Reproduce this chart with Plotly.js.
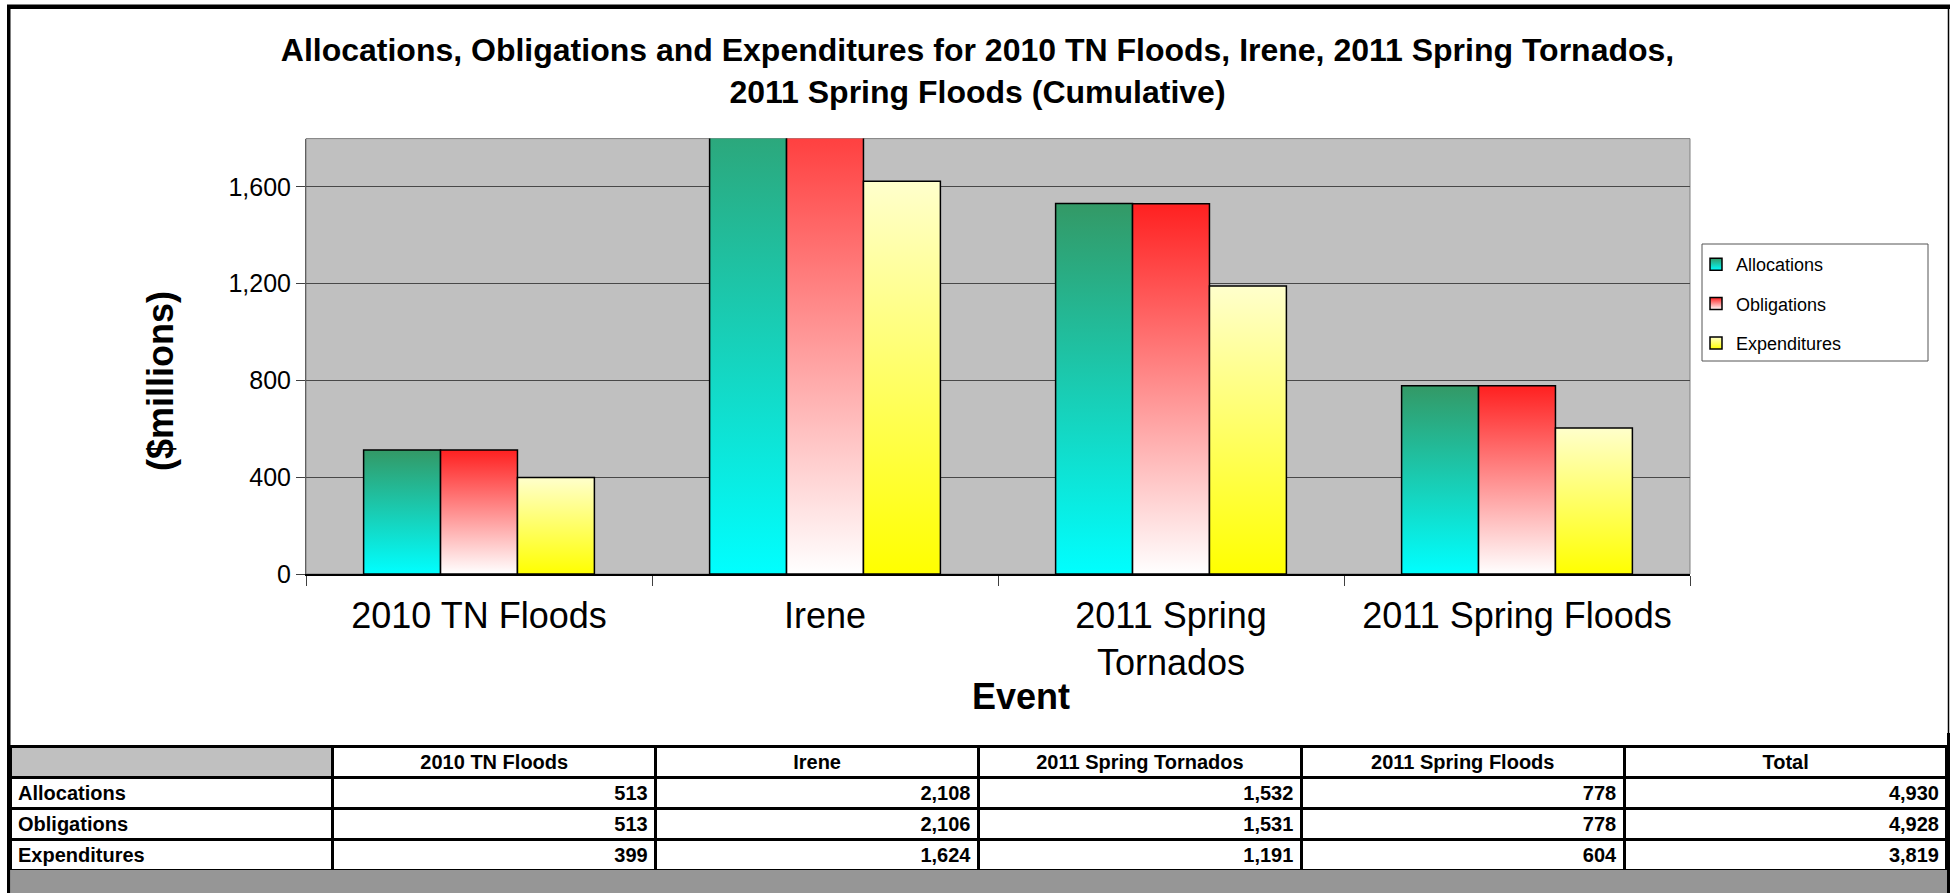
<!DOCTYPE html>
<html>
<head>
<meta charset="utf-8">
<script src="https://cdn.plot.ly/plotly-3.0.1.min.js"></script>
<style>
  html, body { margin: 0; padding: 0; background: #ffffff; }
  #chart { width: 1955px; height: 893px; }
</style>
</head>
<body>
<div id="chart"></div>
<script>
// ---- data ----
const categories = ['2010 TN Floods', 'Irene', '2011 Spring Tornados', '2011 Spring Floods'];
const axisLabels = ['2010 TN Floods', 'Irene', '2011 Spring<br>Tornados', '2011 Spring Floods'];
const seriesNames = ['Allocations', 'Obligations', 'Expenditures'];
const allocations = [513, 2108, 1532, 778];
const obligations = [513, 2106, 1531, 778];
const expenditures = [399, 1624, 1191, 604];
const totals = [4930, 4928, 3819];
const yTicks = [0, 400, 800, 1200, 1600];

// ---- styling ----
const FONT = 'Liberation Sans, Arial, Helvetica, sans-serif';
const W = 1955, H = 893;
const px = v => v / W;
const py = v => 1 - v / H;
const gradients = [
  ['#339966', '#00FFFF'],   // Allocations: green top -> cyan bottom
  ['#FF2020', '#FFFFFF'],   // Obligations: red top -> white bottom
  ['#FFFFCC', '#FFFF00']    // Expenditures: pale yellow top -> yellow bottom
];
const midColors = ['#1ACCB3', '#FF9090', '#FFFF66'];
const seriesValues = [allocations, obligations, expenditures];

const bars = seriesNames.map((name, i) => ({
  type: 'bar',
  name: name,
  x: axisLabels,
  y: seriesValues[i],
  legendgroup: 'g' + i,
  marker: { color: midColors[i], line: { color: '#000000', width: 1.5 } },
  hoverinfo: 'x+y+name'
}));

// table columns (non-breaking spaces keep each header on one line)
const nb = s => s.replace(/ /g, '\u00A0');
const tableColumns = [seriesNames.slice()];
categories.forEach((c, j) => tableColumns.push(seriesValues.map(s => s[j])));
tableColumns.push(totals.slice());

const table = {
  type: 'table',
  domain: { x: [px(10), px(1947)], y: [py(870), py(746)] },
  columnwidth: [1, 1, 1, 1, 1, 1],
  header: {
    values: [''].concat(categories, ['Total']).map(nb),
    align: 'center',
    height: 31,
    fill: { color: ['#C0C0C0', '#FFFFFF', '#FFFFFF', '#FFFFFF', '#FFFFFF', '#FFFFFF'] },
    line: { color: '#000000', width: 3 },
    font: { family: FONT, size: 20, weight: 'bold', color: '#000000' }
  },
  cells: {
    values: tableColumns,
    format: ['', ',d', ',d', ',d', ',d', ',d'],
    align: ['left', 'right', 'right', 'right', 'right', 'right'],
    height: 31,
    fill: { color: '#FFFFFF' },
    line: { color: '#000000', width: 3 },
    font: { family: FONT, size: 20, weight: 'bold', color: '#000000' }
  }
};

const shapes = [
  // plot area border
  { type: 'rect', xref: 'x domain', yref: 'y domain', x0: 0, x1: 1, y0: 0, y1: 1,
    line: { color: '#808080', width: 1 }, layer: 'below' },
  // legend box
  { type: 'rect', xref: 'paper', yref: 'paper', x0: px(1702), x1: px(1928), y0: py(361), y1: py(244),
    line: { color: '#555555', width: 1 }, fillcolor: '#FFFFFF', layer: 'below' },
  // outer frame
  { type: 'rect', xref: 'paper', yref: 'paper', x0: px(7), x1: px(1950), y0: py(9), y1: py(4.5),
    line: { width: 0 }, fillcolor: '#000000' },
  { type: 'rect', xref: 'paper', yref: 'paper', x0: px(7), x1: px(10.5), y0: py(893), y1: py(5),
    line: { width: 0 }, fillcolor: '#000000' },
  { type: 'line', xref: 'paper', yref: 'paper', x0: px(1948.5), x1: px(1948.5), y0: py(733), y1: py(5),
    line: { color: '#000000', width: 1.5 } },
  { type: 'rect', xref: 'paper', yref: 'paper', x0: px(1947), x1: px(1950), y0: py(893), y1: py(733),
    line: { width: 0 }, fillcolor: '#000000' },
  // grey band under the table
  { type: 'rect', xref: 'paper', yref: 'paper', x0: px(10.5), x1: px(1947), y0: py(893), y1: py(870),
    line: { width: 0 }, fillcolor: '#969696' }
];

const annotations = [
  { text: '($millions)', xref: 'paper', yref: 'paper', x: px(160), y: py(381),
    xanchor: 'center', yanchor: 'middle', textangle: -90, showarrow: false,
    font: { family: FONT, size: 36, weight: 'bold', color: '#000000' } },
  { text: 'Event', xref: 'paper', yref: 'paper', x: px(1021), y: py(696),
    xanchor: 'center', yanchor: 'middle', showarrow: false,
    font: { family: FONT, size: 36, weight: 'bold', color: '#000000' } }
];

const layout = {
  width: W, height: H,
  margin: { l: 0, r: 0, t: 0, b: 0, autoexpand: false },
  paper_bgcolor: '#FFFFFF',
  plot_bgcolor: '#C0C0C0',
  font: { family: FONT, color: '#000000' },
  title: {
    text: 'Allocations, Obligations and Expenditures for 2010 TN Floods, Irene, 2011 Spring Tornados,<br>2011 Spring Floods (Cumulative)',
    font: { family: FONT, size: 32, weight: 'bold', color: '#000000' },
    x: 0.5, xref: 'paper', xanchor: 'center',
    y: py(61), yref: 'container', yanchor: 'middle'
  },
  barmode: 'group',
  bargap: 0.333,
  bargroupgap: 0,
  showlegend: true,
  legend: {
    x: px(1696), y: py(246), xanchor: 'left', yanchor: 'top',
    bgcolor: 'rgba(0,0,0,0)', borderwidth: 0,
    font: { family: FONT, size: 18, color: '#000000' },
    tracegroupgap: 13,
    traceorder: 'grouped'
  },
  xaxis: {
    domain: [px(306), px(1690)],
    type: 'category',
    automargin: false,
    showgrid: false,
    showline: true, linecolor: '#000000', linewidth: 1.5,
    ticks: 'outside', tickson: 'boundaries', ticklen: 10, tickcolor: '#404040', tickwidth: 1,
    ticklabelstandoff: 9,
    tickfont: { family: FONT, size: 36, color: '#000000' },
    fixedrange: true
  },
  yaxis: {
    domain: [py(574), py(138.6)],
    range: [0, 1800],
    automargin: false,
    tickmode: 'array', tickvals: yTicks, tickformat: ',d',
    showgrid: true, gridcolor: '#484848', gridwidth: 1,
    zeroline: false,
    showline: true, linecolor: '#606060', linewidth: 1,
    ticks: 'outside', ticklen: 9, tickcolor: '#404040', tickwidth: 1,
    tickfont: { family: FONT, size: 25, color: '#000000' },
    fixedrange: true
  },
  shapes: shapes,
  annotations: annotations
};

function applyGradients(gd) {
  const NS = 'http://www.w3.org/2000/svg';
  const svg = gd.querySelector('svg.main-svg');
  let defs = svg.querySelector('defs');
  if (!defs) { defs = document.createElementNS(NS, 'defs'); svg.insertBefore(defs, svg.firstChild); }
  gradients.forEach((g, i) => {
    const id = 'barGrad' + i;
    if (document.getElementById(id)) return;
    const lg = document.createElementNS(NS, 'linearGradient');
    lg.setAttribute('id', id);
    lg.setAttribute('x1', '0'); lg.setAttribute('y1', '0');
    lg.setAttribute('x2', '0'); lg.setAttribute('y2', '1');
    [[0, g[0]], [1, g[1]]].forEach(([o, c]) => {
      const st = document.createElementNS(NS, 'stop');
      st.setAttribute('offset', o);
      st.setAttribute('stop-color', c);
      lg.appendChild(st);
    });
    defs.appendChild(lg);
  });
  gd.querySelectorAll('.barlayer .trace.bars').forEach((t, i) => {
    t.querySelectorAll('path').forEach(p => { p.style.fill = 'url(#barGrad' + i + ')'; });
  });
  gd.querySelectorAll('.legend .traces').forEach((t, i) => {
    t.querySelectorAll('.legendpoints path').forEach(p => { p.style.fill = 'url(#barGrad' + i + ')'; });
  });
}

const gd = document.getElementById('chart');
Plotly.newPlot(gd, bars.concat([table]), layout, { staticPlot: true, displayModeBar: false })
  .then(() => applyGradients(gd));
</script>
</body>
</html>
